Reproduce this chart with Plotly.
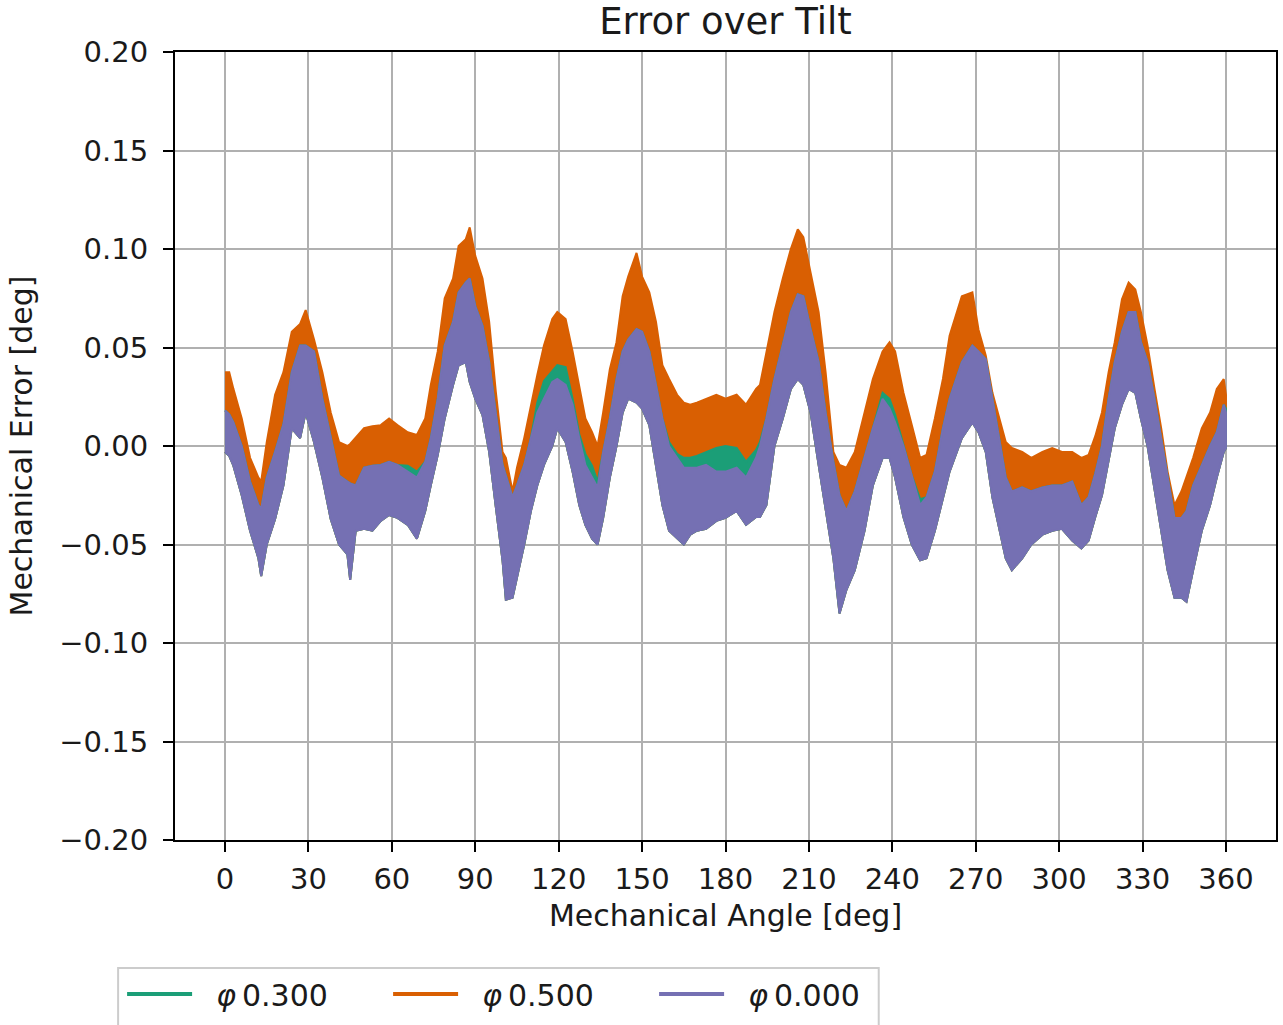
import plotly.graph_objects as go

# Mechanical angle [deg] at which the band edges were read
angle = [0, 1.5, 3, 6, 9, 12, 13, 15, 18, 21, 24, 27, 29, 32, 35, 38, 41, 44, 45, 47, 50, 53,
         56, 59, 62, 65.7, 69, 72, 74, 76.5, 79, 82, 84, 86.6, 88, 90, 92.6, 95, 97.4, 99.8,
         101, 103.4, 105, 107.6, 110, 112.3, 114.7, 117.7, 119.5,
         122.5, 125, 127.4, 129.6, 132, 134, 136, 138.4, 140.8, 143, 145, 148, 150, 152.6,
         155, 157.3, 159.7, 162.6, 165, 167.3, 169.7, 173, 176.7, 180, 184, 187.4, 191,
         192.4, 194.7, 197.6, 200.6, 203.5, 206, 208, 210.6, 213.5, 216, 218.8, 221, 223.5,
         226.5, 230, 233, 236.5, 239, 241, 244, 247, 250, 252.3, 255.3, 258.2, 260.6,
         265, 268.8, 271, 273.6, 276, 278.4, 280.8, 283, 286.7, 290, 294, 297.5, 301, 304.7,
         308, 310.6, 313, 315.4, 317.8, 320, 322.6, 325, 327.4,
         329.4, 331.8, 334.3, 336.7, 339, 341.5, 344, 345.8, 348.2, 351.3, 354.3, 356.7, 359.2, 360]

# phi 0.500 (orange) upper edge of the band
phi050_upper = [0.0375, 0.0375, 0.029, 0.014, -0.006, -0.016, -0.018, 0.002, 0.026, 0.0375, 0.058, 0.062, 0.069, 0.054, 0.0375, 0.017, 0.002, 0.000, 0.001, 0.004, 0.009, 0.010,
                0.0106, 0.014, 0.0106, 0.007, 0.0056, 0.014, 0.031, 0.048, 0.075, 0.085, 0.1015, 0.105, 0.111, 0.0965, 0.085, 0.063, 0.0274, -0.003,
                -0.006, -0.023, -0.011, 0.004, 0.021, 0.036, 0.051, 0.0645, 0.068,
                0.0645, 0.048, 0.031, 0.014, 0.007, 0.000, 0.017, 0.039, 0.0527, 0.076, 0.086, 0.098, 0.086, 0.078,
                0.063, 0.041, 0.034, 0.026, 0.022, 0.021, 0.022, 0.024, 0.026, 0.024, 0.026, 0.021, 0.029,
                0.031, 0.048, 0.068, 0.085, 0.100, 0.110, 0.106, 0.088, 0.068, 0.0375, -0.003, -0.0096, -0.011,
                -0.003, 0.017, 0.034, 0.048, 0.0527, 0.048, 0.027, 0.0106, -0.006, -0.0045, 0.014, 0.034, 0.056,
                0.076, 0.078, 0.059, 0.046, 0.027, 0.014, 0.002, -0.001, -0.003, -0.006, -0.003, -0.001, -0.003, -0.003,
                -0.006, -0.0045, 0.005, 0.017, 0.0375, 0.0527, 0.0745, 0.083, 0.0795,
                0.068, 0.051, 0.029, 0.009, -0.013, -0.030, -0.023, -0.016, -0.006, 0.009, 0.017, 0.029, 0.034, 0.026]

# phi 0.300 (green) upper edge, where it shows above the phi 0.000 band
phi030_upper = [0.018, 0.016, 0.012, 0.000, -0.018, -0.030, -0.032, -0.016, -0.003, 0.011, 0.0375, 0.051, 0.051, 0.048, 0.024, 0.004, -0.015, -0.018, -0.019, -0.020, -0.011, -0.010,
                -0.0096, -0.008, -0.0096, -0.010, -0.013, -0.008, 0.004, 0.024, 0.051, 0.063, 0.078, 0.083, 0.085, 0.071, 0.061, 0.0426, 0.017, -0.0096,
                -0.015, -0.026, -0.020, -0.0096, 0.004, 0.022, 0.033, 0.038, 0.041,
                0.040, 0.024, 0.006, -0.004, -0.010, -0.018, -0.003, 0.014, 0.034, 0.048, 0.054, 0.0594, 0.058, 0.048,
                0.031, 0.014, 0.002, -0.004, -0.006, -0.006, -0.005, -0.003, -0.001, 0.000, -0.001, -0.008, -0.002,
                0.002, 0.014, 0.034, 0.051, 0.068, 0.077, 0.076, 0.0594, 0.0426, 0.017, -0.008, -0.025, -0.033,
                -0.023, -0.006, 0.009, 0.027, 0.024, 0.016, 0.000, -0.015, -0.027, -0.026, -0.013, 0.009, 0.024,
                0.0426, 0.051, 0.048, 0.044, 0.024, 0.004, -0.016, -0.023, -0.021, -0.023, -0.021, -0.020, -0.020, -0.018,
                -0.030, -0.026, -0.014, 0.000, 0.024, 0.0426, 0.058, 0.068, 0.068,
                0.0527, 0.0426, 0.024, 0.004, -0.016, -0.0365, -0.0365, -0.033, -0.020, -0.0096, 0.000, 0.007, 0.021, 0.019]

# phi 0.000 (purple) upper edge of the band
phi000_upper = [0.018, 0.016, 0.012, 0.000, -0.018, -0.030, -0.032, -0.016, -0.003, 0.011, 0.0375, 0.051, 0.051, 0.048, 0.024, 0.004, -0.015, -0.018, -0.019, -0.020, -0.011, -0.010,
                -0.0096, -0.008, -0.0096, -0.013, -0.016, -0.008, 0.004, 0.024, 0.051, 0.063, 0.078, 0.083, 0.085, 0.071, 0.061, 0.0426, 0.017, -0.0096,
                -0.015, -0.026, -0.020, -0.0096, 0.004, 0.017, 0.024, 0.0325, 0.034,
                0.031, 0.021, 0.004, -0.0096, -0.016, -0.021, -0.003, 0.014, 0.034, 0.048, 0.054, 0.0594, 0.058, 0.048,
                0.031, 0.014, 0.000, -0.006, -0.011, -0.011, -0.011, -0.0096, -0.013, -0.013, -0.011, -0.016, -0.006,
                0.000, 0.014, 0.034, 0.051, 0.068, 0.077, 0.076, 0.0594, 0.0426, 0.017, -0.008, -0.025, -0.033,
                -0.023, -0.006, 0.009, 0.024, 0.019, 0.012, 0.000, -0.015, -0.030, -0.026, -0.013, 0.009, 0.024,
                0.0426, 0.051, 0.048, 0.044, 0.024, 0.004, -0.016, -0.023, -0.021, -0.023, -0.021, -0.020, -0.020, -0.018,
                -0.030, -0.026, -0.014, 0.000, 0.024, 0.0426, 0.058, 0.068, 0.068,
                0.0527, 0.0426, 0.024, 0.004, -0.016, -0.0365, -0.0365, -0.033, -0.020, -0.0096, 0.000, 0.007, 0.021, 0.017]

# lower edge of the bands (phi 0.000 lowest extent; the others are hidden beneath it)
band_lower = [-0.003, -0.005, -0.010, -0.025, -0.043, -0.057, -0.066, -0.050, -0.037, -0.020, 0.009, 0.004, 0.017, 0.002, -0.016, -0.037, -0.050, -0.055, -0.068, -0.043, -0.042, -0.043,
              -0.038, -0.035, -0.0365, -0.040, -0.047, -0.033, -0.020, -0.0045, 0.014, 0.031, 0.041, 0.0426, 0.0325, 0.024, 0.0157, -0.003, -0.031, -0.058,
              -0.078, -0.077, -0.067, -0.050, -0.033, -0.020, -0.0096, 0.000, 0.009,
              0.002, -0.013, -0.030, -0.040, -0.047, -0.050, -0.0365, -0.016, 0.000, 0.017, 0.024, 0.022, 0.019, 0.0106,
              -0.0096, -0.030, -0.043, -0.047, -0.050, -0.045, -0.043, -0.042, -0.038, -0.0365, -0.033, -0.040, -0.036,
              -0.036, -0.030, 0.000, 0.014, 0.029, 0.034, 0.031, 0.017, -0.0096, -0.033, -0.057, -0.085, -0.073,
              -0.063, -0.043, -0.020, -0.006, -0.006, -0.016, -0.036, -0.050, -0.058, -0.057, -0.043, -0.026, -0.013,
              0.004, 0.012, 0.007, -0.003, -0.026, -0.042, -0.057, -0.063, -0.057, -0.050, -0.045, -0.043, -0.042, -0.048,
              -0.052, -0.048, -0.036, -0.025, -0.008, 0.009, 0.021, 0.029, 0.027,
              0.014, 0.000, -0.021, -0.043, -0.063, -0.077, -0.077, -0.079, -0.063, -0.043, -0.030, -0.016, -0.003, -0.001]

series_names = ["\u00a0\u00a0<i>φ</i>\u20090.300", "\u00a0\u00a0<i>φ</i>\u20090.500", "\u00a0\u00a0<i>φ</i>\u20090.000"]
colors = {"g": "#1b9e77", "o": "#d95f02", "p": "#7570b3"}

x_ticks = list(range(0, 361, 30))
y_ticks = [-0.20, -0.15, -0.10, -0.05, 0.00, 0.05, 0.10, 0.15, 0.20]

FONT = "DejaVu Sans, Liberation Sans, sans-serif"
TXT = "#1a1a1a"

W, H = 1283, 1025
ML, MR, MT, MB = 175, 5, 52, 185
PW, PH = W - ML - MR, H - MT - MB


def band(upper, lower, color):
    xs = angle + angle[::-1]
    ys = upper + lower[::-1]
    return go.Scatter(x=xs, y=ys, mode="lines", fill="toself", fillcolor=color,
                      line=dict(color=color, width=2), showlegend=False,
                      hoverinfo="skip")


fig = go.Figure()
# drawing order so that the visible layering matches the reference
fig.add_trace(band(phi050_upper, band_lower, colors["o"]))
fig.add_trace(band(phi030_upper, band_lower, colors["g"]))
fig.add_trace(band(phi000_upper, band_lower, colors["p"]))

# legend entries (line style like the original)
for name, c in zip(series_names, [colors["g"], colors["o"], colors["p"]]):
    fig.add_trace(go.Scatter(x=[None], y=[None], mode="lines", name=name,
                             line=dict(color=c, width=4)))

axis_common = dict(
    showline=True, linecolor="black", linewidth=2, mirror=True,
    ticks="outside", ticklen=10, tickwidth=2, tickcolor="black",
    showgrid=True, gridcolor="#b0b0b0", gridwidth=2, zeroline=False,
    tickfont=dict(family=FONT, size=29, color=TXT),
)

# legend frame (pixel positions converted to paper fractions)
box_x0, box_x1, box_y0, box_y1 = 118, 880, 968, 1040
fig.add_shape(type="rect", xref="paper", yref="paper", layer="below",
              x0=(box_x0 - ML) / PW, x1=(box_x1 - ML) / PW,
              y0=(MT + PH - box_y0) / PH, y1=(MT + PH - box_y1) / PH,
              line=dict(color="#cccccc", width=2), fillcolor="white")

fig.update_layout(
    width=W, height=H,
    paper_bgcolor="white", plot_bgcolor="white",
    margin=dict(l=ML, r=MR, t=MT, b=MB),
    title=dict(text="Error over Tilt", x=0.5, xref="paper", y=1 - 21 / H, yanchor="middle",
               font=dict(family=FONT, size=37, color=TXT)),
    xaxis=dict(range=[-18, 378], tickvals=x_ticks, ticktext=[str(v) for v in x_ticks],
               ticklabelstandoff=2,
               title=dict(text="Mechanical Angle [deg]", standoff=10,
                          font=dict(family=FONT, size=30, color=TXT)),
               **axis_common),
    yaxis=dict(range=[-0.2, 0.2], tickvals=y_ticks, tickformat=".2f",
               ticklabelstandoff=9,
               title=dict(text="Mechanical Error [deg]", standoff=18,
                          font=dict(family=FONT, size=30, color=TXT)),
               **axis_common),
    legend=dict(orientation="h", x=(box_x0 + 4 - ML) / PW, xanchor="left",
                y=(MT + PH - box_y0) / PH, yanchor="top",
                borderwidth=0, bgcolor="rgba(0,0,0,0)",
                font=dict(family=FONT, size=30, color=TXT),
                entrywidth=186, entrywidthmode="pixels", itemwidth=65),
    showlegend=True,
)

fig.write_html("out.html", config={"displayModeBar": False},
               post_script="document.body.style.margin='0';")
